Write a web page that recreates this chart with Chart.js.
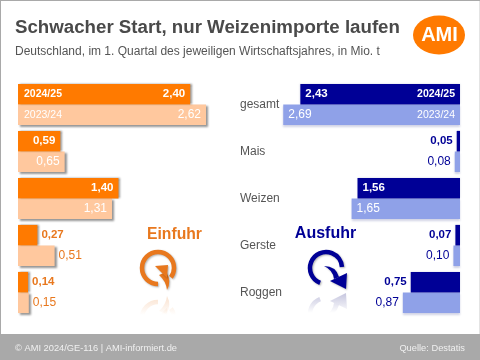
<!DOCTYPE html>
<html>
<head>
<meta charset="utf-8">
<style>
  html, body { margin: 0; padding: 0; background: #fff; }
  canvas { display: block; }
</style>
</head>
<body>
<canvas id="chart" width="480" height="360"></canvas>
<script src="https://cdn.jsdelivr.net/npm/chart.js@4"></script>
<script>
const categories = ['gesamt', 'Mais', 'Weizen', 'Gerste', 'Roggen'];
const einfuhr2425 = [2.40, 0.59, 1.40, 0.27, 0.14];
const einfuhr2324 = [2.62, 0.65, 1.31, 0.51, 0.15];
const ausfuhr2425 = [2.43, 0.05, 1.56, 0.07, 0.75];
const ausfuhr2324 = [2.69, 0.08, 1.65, 0.10, 0.87];
const years = ['2024/25', '2023/24'];

const orange = '#ff7a00', orangeLight = '#ffc89e', orangeText = '#e8781e';
const navy = '#000096', blueLight = '#8fa1e8';
const font = '"Liberation Sans", Arial, sans-serif';

function fmt(v) { return v.toFixed(2).replace('.', ','); }

function text(ctx, str, x, y, color, size, bold, align) {
    ctx.font = (bold ? 'bold ' : '') + size + 'px ' + font;
    ctx.fillStyle = color;
    ctx.textAlign = align || 'left';
    ctx.textBaseline = 'middle';
    ctx.fillText(str, x, y);
}

// ring with curved arrow, out = false arrow points into the ring, true out of it
function drawIcon(ctx, cx, cy, color, out) {
    ctx.strokeStyle = color;
    ctx.fillStyle = color;
    ctx.lineCap = 'butt';
    ctx.lineWidth = 4.5;
    ctx.beginPath();
    if (out) {
        ctx.arc(cx, cy, 16, Math.PI * 0.62, Math.PI * 1.98);
        ctx.stroke();
        ctx.beginPath();
        ctx.moveTo(cx - 2, cy - 2);
        ctx.quadraticCurveTo(cx + 10, cy - 2, cx + 13, cy + 9);
        ctx.lineTo(cx + 8, cy + 11);
        ctx.quadraticCurveTo(cx + 7, cy + 2, cx - 2, cy - 2);
        ctx.fill();
        ctx.beginPath();
        ctx.moveTo(cx + 4, cy + 13);
        ctx.lineTo(cx + 21, cy + 5);
        ctx.lineTo(cx + 20, cy + 21);
        ctx.closePath();
        ctx.fill();
    } else {
        ctx.arc(cx, cy, 16, Math.PI * 0.5, Math.PI * 0.2);
        ctx.stroke();
        ctx.beginPath();
        ctx.moveTo(cx + 9, cy + 22);
        ctx.quadraticCurveTo(cx + 8, cy + 13, cx + 1, cy + 7);
        ctx.lineTo(cx + 8, cy + 4);
        ctx.quadraticCurveTo(cx + 14, cy + 13, cx + 9, cy + 22);
        ctx.fill();
        ctx.beginPath();
        ctx.moveTo(cx - 3, cy - 2);
        ctx.lineTo(cx + 10, cy - 3);
        ctx.lineTo(cx + 9, cy + 10);
        ctx.closePath();
        ctx.fill();
    }
}

function drawReflection(ctx, cx, cy, mirrorY, rgb, out) {
    ctx.save();
    ctx.translate(0, mirrorY * 2);
    ctx.scale(1, -1);
    const g = ctx.createLinearGradient(0, mirrorY, 0, mirrorY - 22);
    g.addColorStop(0, 'rgba(' + rgb + ',0.25)');
    g.addColorStop(1, 'rgba(' + rgb + ',0)');
    drawIcon(ctx, cx, cy, g, out);
    ctx.restore();
}

const backdrop = {
    id: 'backdrop',
    beforeDraw(chart) {
        const ctx = chart.ctx;
        ctx.save();
        ctx.fillStyle = '#ffffff';
        ctx.fillRect(0, 0, 480, 360);
        ctx.fillStyle = '#a9a9a9';
        ctx.fillRect(0, 0, 480, 1);
        ctx.fillRect(0, 0, 1, 360);
        ctx.fillRect(0, 334, 480, 26);
        ctx.fillStyle = '#e4e4e4';
        ctx.fillRect(479, 1, 1, 333);
        ctx.restore();
    }
};

// soft drop shadow on the bars
const barShadow = {
    id: 'barShadow',
    beforeDatasetDraw(chart, args) {
        const ctx = chart.ctx;
        const left = chart.data.datasets[args.index].xAxisID === 'xL';
        const current = args.index % 2 === 0;
        ctx.save();
        ctx.shadowColor = left ? 'rgba(0,0,0,0.42)' : 'rgba(70,80,150,0.25)';
        ctx.shadowBlur = 2;
        ctx.shadowOffsetX = left ? 2 : 0;
        ctx.shadowOffsetY = current ? 0 : 2;
    },
    afterDatasetDraw(chart) {
        chart.ctx.restore();
    }
};

const annotations = {
    id: 'annotations',
    afterDatasetsDraw(chart) {
        const ctx = chart.ctx;
        ctx.save();

        categories.forEach((c, i) => {
            text(ctx, c, 240, chart.scales.y.getPixelForValue(i), '#555555', 12, false);
        });

        chart.data.datasets.forEach((ds, d) => {
            const meta = chart.getDatasetMeta(d);
            const left = ds.xAxisID === 'xL';
            const current = d % 2 === 0;
            ds.data.forEach((v, i) => {
                const bar = meta.data[i];
                const y = bar.y;
                let x, align, color;
                if (left) {
                    if (v > 0.55) { x = bar.x - 5; align = 'right'; color = '#ffffff'; }
                    else { x = bar.x + 4; align = 'left'; color = orangeText; }
                } else {
                    if (v > 1) { x = bar.x + 5; align = 'left'; color = '#ffffff'; }
                    else { x = bar.x - 4; align = 'right'; color = navy; }
                }
                text(ctx, fmt(v), x, y, color, current ? 11.5 : 12, current, align);
                if (i === 0) {
                    const yx = left ? bar.base + 6 : bar.base - 5;
                    text(ctx, years[current ? 0 : 1], yx, y, '#ffffff', 10.5, current, left ? 'left' : 'right');
                }
            });
        });

        text(ctx, 'Einfuhr', 174.5, 235, orangeText, 15.7, true, 'center');
        text(ctx, 'Ausfuhr', 325.5, 234, navy, 16, true, 'center');

        ctx.save();
        ctx.shadowColor = 'rgba(0,0,0,0.3)';
        ctx.shadowBlur = 2;
        ctx.shadowOffsetX = 1;
        ctx.shadowOffsetY = 1;
        drawIcon(ctx, 158, 268, orangeText, false);
        drawIcon(ctx, 326, 268, navy, true);
        ctx.restore();
        drawReflection(ctx, 158, 268, 293, '232,120,30', false);
        drawReflection(ctx, 326, 268, 291, '0,0,110', true);

        // logo
        ctx.fillStyle = orange;
        ctx.beginPath();
        ctx.ellipse(439, 35, 26, 19.5, 0, 0, Math.PI * 2);
        ctx.fill();
        text(ctx, 'AMI', 439.5, 35.5, '#ffffff', 20, true, 'center');

        // footer
        text(ctx, '\u00A9 AMI 2024/GE-116 | AMI-informiert.de', 15, 348, '#f0f0f0', 9.3, false);
        text(ctx, 'Quelle: Destatis', 465, 348, '#f0f0f0', 9.3, false, 'right');
        ctx.restore();
    }
};

new Chart(document.getElementById('chart'), {
    type: 'bar',
    data: {
        labels: categories,
        datasets: [
            { label: 'Einfuhr 2024/25', data: einfuhr2425, xAxisID: 'xL', stack: 'a', backgroundColor: orange },
            { label: 'Einfuhr 2023/24', data: einfuhr2324, xAxisID: 'xL', stack: 'b', backgroundColor: orangeLight },
            { label: 'Ausfuhr 2024/25', data: ausfuhr2425, xAxisID: 'xR', stack: 'a', backgroundColor: navy },
            { label: 'Ausfuhr 2023/24', data: ausfuhr2324, xAxisID: 'xR', stack: 'b', backgroundColor: blueLight }
        ]
    },
    options: {
        indexAxis: 'y',
        responsive: false,
        animation: false,
        clip: false,
        categoryPercentage: 0.875,
        barPercentage: 1,
        borderSkipped: false,
        layout: { padding: { left: 15, right: 20, bottom: 44, top: 0 } },
        scales: {
            y: { display: false },
            // chart area starts at the title's left edge, so the left bars need a little room before zero
            xL: { type: 'linear', display: false, min: -0.042, max: 6.16, stacked: false },
            xR: { type: 'linear', display: false, min: 0, max: 6.773, reverse: true, stacked: false }
        },
        plugins: {
            legend: { display: false },
            tooltip: { enabled: false },
            title: {
                display: true,
                text: 'Schwacher Start, nur Weizenimporte laufen',
                align: 'start',
                color: '#4a4a4a',
                font: { family: font, size: 18.7, weight: 'bold' },
                padding: { top: 17, bottom: 5.3 }
            },
            subtitle: {
                display: true,
                text: 'Deutschland, im 1. Quartal des jeweiligen Wirtschaftsjahres, in Mio. t',
                align: 'start',
                color: '#555555',
                font: { family: font, size: 12 },
                padding: { bottom: 21.8 }
            }
        }
    },
    plugins: [backdrop, barShadow, annotations]
});
</script>
</body>
</html>
